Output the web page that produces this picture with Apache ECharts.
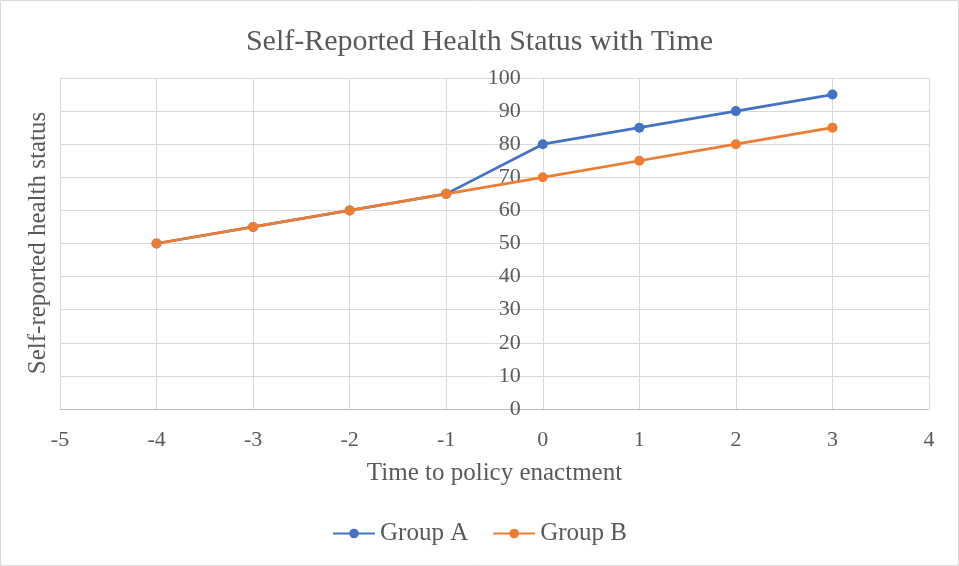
<!DOCTYPE html>
<html><head><meta charset="utf-8">
<script src="https://cdn.jsdelivr.net/npm/echarts@6/dist/echarts.min.js"></script>
<style>html,body{margin:0;padding:0;background:#fff}#c{width:959px;height:566px}</style>
</head><body><div id="c"></div>
<script>
const times = [-4, -3, -2, -1, 0, 1, 2, 3];
const groupA = [50, 55, 60, 65, 80, 85, 90, 95];
const groupB = [50, 55, 60, 65, 70, 75, 80, 85];
const seriesNames = ['Group A', 'Group B'];
const F = '"Liberation Serif","Times New Roman",serif';
const txt = '#595959';
const gridLeft = 60, gridRight = 30, W = 959;
const xMin = -5, xMax = 4;
const yAxisOffset = -((0 - xMin) / (xMax - xMin)) * (W - gridLeft - gridRight);
const chart = echarts.init(document.getElementById('c'));
chart.setOption({
  animation: false,
  backgroundColor: '#fff',
  graphic: [
    {type:'rect', shape:{x:0.5,y:0.5,width:958,height:565}, style:{fill:'none', stroke:'#d9d9d9', lineWidth:1}, silent:true},
    {type:'text', x: 38, y: 243, rotation: Math.PI/2, style:{text:'Self-reported health status', fontFamily:F, fontSize:25, fill:txt, textAlign:'center', textVerticalAlign:'middle'}}
  ],
  title: {text: 'Self-Reported Health Status with Time', left: 'center', top: 22,
    textStyle: {fontFamily: F, fontSize: 30, fontWeight: 'normal', color: txt}},
  legend: {data: seriesNames, top: 516, left: 'center', itemWidth: 42, itemHeight: 12, itemGap: 24,
    textStyle: {fontFamily: F, fontSize: 25, color: txt}},
  grid: {left: gridLeft, right: gridRight, top: 78, bottom: 157},
  xAxis: {type: 'value', min: xMin, max: xMax, interval: 1,
    name: 'Time to policy enactment', nameLocation: 'middle', nameGap: 52,
    nameTextStyle: {fontFamily: F, fontSize: 25, color: txt},
    axisLine: {onZero: false, lineStyle: {color: '#bfbfbf'}},
    axisTick: {show: false},
    axisLabel: {fontFamily: F, fontSize: 22, color: txt, margin: 20},
    splitLine: {show: true, lineStyle: {color: '#d9d9d9'}}},
  yAxis: {type: 'value', min: 0, max: 100, interval: 10, position: 'left', offset: yAxisOffset,
    axisLine: {show: true, onZero: false, lineStyle: {color: '#d9d9d9'}},
    axisTick: {show: false},
    axisLabel: {fontFamily: F, fontSize: 22, color: txt, margin: 22},
    splitLine: {show: true, lineStyle: {color: '#d9d9d9'}}},
  series: [
    {name: seriesNames[0], type: 'line', data: times.map((t,i)=>[t, groupA[i]]),
      symbol: 'circle', symbolSize: 10, color: '#4472C4', lineStyle: {width: 2.75}},
    {name: seriesNames[1], type: 'line', data: times.map((t,i)=>[t, groupB[i]]),
      symbol: 'circle', symbolSize: 10, color: '#ED7D31', lineStyle: {width: 2.75}}
  ]
});
</script></body></html>
